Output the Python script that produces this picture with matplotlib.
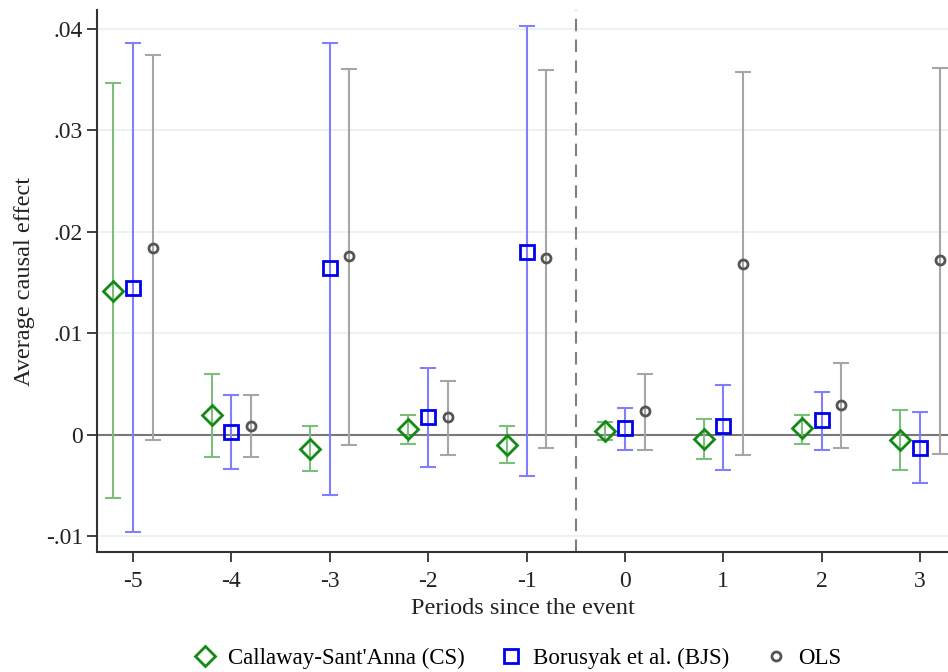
import numpy as np
import matplotlib.pyplot as plt
from matplotlib.lines import Line2D

plt.rcParams['font.family'] = ['Liberation Serif', 'DejaVu Serif']

# event-time periods
periods = [-5, -4, -3, -2, -1, 0, 1, 2, 3]

# Callaway-Sant'Anna (CS)
cs_est = [0.0142, 0.0019, -0.0014, 0.0005, -0.0010, 0.0004, -0.0004, 0.0006, -0.0005]
cs_lo = [-0.0063, -0.0022, -0.0036, -0.0009, -0.0028, -0.0005, -0.0024, -0.0009, -0.0035]
cs_hi = [0.0347, 0.0060, 0.0008, 0.0019, 0.0008, 0.0012, 0.0015, 0.0019, 0.0024]

# Borusyak et al. (BJS)
bjs_est = [0.0145, 0.0003, 0.0164, 0.0017, 0.0180, 0.0006, 0.0008, 0.0014, -0.0013]
bjs_lo = [-0.0096, -0.0034, -0.0060, -0.0032, -0.0041, -0.0015, -0.0035, -0.0015, -0.0048]
bjs_hi = [0.0386, 0.0039, 0.0386, 0.0066, 0.0403, 0.0026, 0.0049, 0.0042, 0.0022]

# OLS
ols_est = [0.0184, 0.0008, 0.0176, 0.0017, 0.0174, 0.0023, 0.0168, 0.0029, 0.0172]
ols_lo = [-0.0005, -0.0022, -0.0010, -0.0020, -0.0013, -0.0015, -0.0020, -0.0013, -0.0019]
ols_hi = [0.0374, 0.0039, 0.0361, 0.0053, 0.0360, 0.0060, 0.0358, 0.0071, 0.0362]

yticks = [-0.01, 0, 0.01, 0.02, 0.03, 0.04]
ytick_labels = ['-.01', '0', '.01', '.02', '.03', '.04']

series = [
    ("Callaway-Sant'Anna (CS)", cs_est, cs_lo, cs_hi, -0.2, 'D', 10.5, '#138a13', '#7cbf7c'),
    ("Borusyak et al. (BJS)", bjs_est, bjs_lo, bjs_hi, 0.0, 's', 10, '#0000ee', '#8080ff'),
    ("OLS", ols_est, ols_lo, ols_hi, 0.2, 'o', 6.5, '#555555', '#a6a6a6'),
]

fig = plt.figure(figsize=(9.48, 6.72), dpi=100)
ax = fig.add_axes([0.1023, 0.1786, 0.8977, 0.8065])

for y in yticks:
    if y != 0:
        ax.axhline(y, color='#e8f0f2', linewidth=1.2, zorder=0)
ax.axhline(0, color='#777777', linewidth=1.5, zorder=1)
ax.axvline(-0.5, color='#808080', linewidth=1.5, linestyle=(0, (6, 4)), zorder=1)

handles = []
x = np.array(periods, dtype=float)
for label, est, lo, hi, off, mk, ms, mcol, ecol in series:
    est = np.array(est)
    err = np.vstack([est - np.array(lo), np.array(hi) - est])
    ax.errorbar(x + off, est, yerr=err, fmt='none', ecolor=ecol,
                elinewidth=1.5, capsize=6, capthick=1.5, zorder=2)
    ax.plot(x + off, est, linestyle='none', marker=mk, markersize=ms,
            markerfacecolor='none', markeredgecolor=mcol, markeredgewidth=2, zorder=3)
    handles.append(Line2D([], [], linestyle='none', marker=mk, markersize=ms,
                          markerfacecolor='none', markeredgecolor=mcol,
                          markeredgewidth=2, label=label))

ax.set_xlim(-5.367, 3.285)
ax.set_ylim(-0.01158, 0.04187)
ax.set_xticks(periods)
ax.set_xticklabels([str(p) for p in periods])
ax.set_yticks(yticks)
ax.set_yticklabels(ytick_labels)
ax.tick_params(axis='both', labelsize=17, length=7, width=1.3, color='#333333',
               labelcolor='#222222', direction='out')
ax.tick_params(axis='x', pad=7)
ax.tick_params(axis='y', pad=3)
for side in ['top', 'right']:
    ax.spines[side].set_visible(False)
for side in ['left', 'bottom']:
    ax.spines[side].set_color('#333333')
    ax.spines[side].set_linewidth(1.5)

ax.set_xlabel("Periods since the event", fontsize=17.5, labelpad=4, color='#222222')
ax.set_ylabel("Average causal effect", fontsize=17.5, labelpad=8, color='#222222')

fig.legend(handles=handles, loc='center', bbox_to_anchor=(0.546, 0.02), ncol=3,
           frameon=False, fontsize=16.5, columnspacing=1.5, handletextpad=0.5,
           handlelength=1.0)

fig.savefig('out.png', dpi=100)
